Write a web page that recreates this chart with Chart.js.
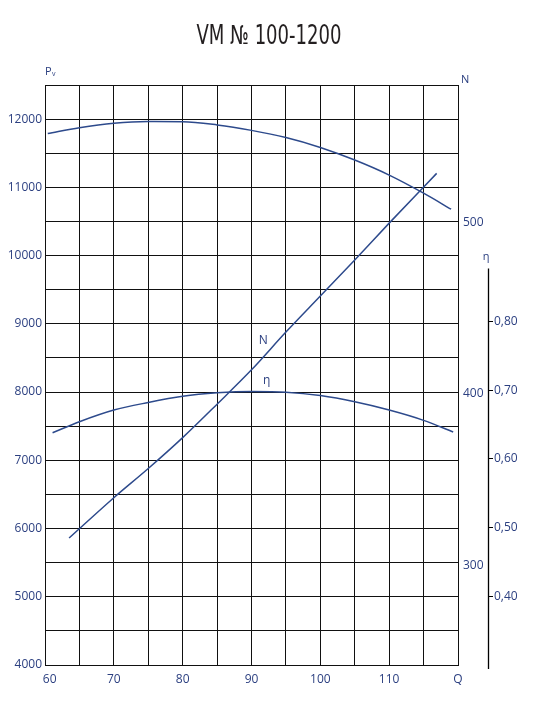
<!DOCTYPE html>
<html>
<head>
<meta charset="utf-8">
<script src="https://cdn.jsdelivr.net/npm/chart.js@4"></script>
<style>
  html, body { margin: 0; padding: 0; background: #fff; }
  #wrap { width: 537px; height: 717px; position: relative; }
</style>
</head>
<body>
<div id="wrap"><canvas id="fanChart"></canvas></div>
<script>
// Q - Pv curve
const qPv = [60.4, 65, 70, 75, 80, 85, 90, 95, 100, 105, 110, 115, 119];
const pv  = [11790, 11875, 11940, 11965, 11963, 11915, 11835, 11730, 11585, 11400, 11180, 10915, 10680];

// Q - N (power) line
const qN = [63.5, 70, 75, 80, 85, 90, 95, 100, 105, 110, 116.9];
const n  = [316, 339.5, 356.5, 374.5, 394, 414, 436, 457, 478, 499.5, 528.5];

// Q - efficiency
const qEta = [61.1, 65, 70, 75, 80, 85, 90, 95, 100, 105, 110, 115, 119.3];
const eta  = [0.638, 0.654, 0.671, 0.682, 0.691, 0.696, 0.698, 0.697, 0.692, 0.683, 0.671, 0.656, 0.639];

const pvTicks  = [4000, 5000, 6000, 7000, 8000, 9000, 10000, 11000, 12000];
const qTicks   = [60, 70, 80, 90, 100, 110];
const nTicks   = [300, 400, 500];
const etaTicks = [0.4, 0.5, 0.6, 0.7, 0.8];

const title = 'VM № 100-1200';

const blue = '#2d4a8c';
const txt = '#2b3f80';
const fnt = '"Open Sans", "DejaVu Sans", sans-serif';

const pts = (xs, ys) => xs.map((x, i) => ({x: x, y: ys[i]}));

// title (condensed), axis names, curve names and the short eta axis line
const extras = {
  id: 'extras',
  afterDraw(chart) {
    const c = chart.ctx, a = chart.chartArea;
    const sx = chart.scales.x, sy = chart.scales.y, se = chart.scales.yEta;
    c.save();
    c.fillStyle = '#231f20';
    c.font = '26px "DejaVu Sans Condensed", "DejaVu Sans", sans-serif';
    c.textAlign = 'center';
    c.textBaseline = 'alphabetic';
    const w = c.measureText(title).width;
    c.translate(269, 44);
    c.scale(145 / w, 1);
    c.fillText(title, 0, 0);
    c.restore();

    c.save();
    c.strokeStyle = '#000';
    c.lineWidth = 1.3;
    c.beginPath();
    c.moveTo(se.left + 0.5, se.getPixelForValue(0.877));
    c.lineTo(se.left + 0.5, se.getPixelForValue(0.294));
    c.stroke();

    c.fillStyle = txt;
    c.textBaseline = 'alphabetic';
    c.font = '11px ' + fnt;
    c.textAlign = 'left';
    c.fillText('P', a.left, a.top - 10);
    c.font = '7px ' + fnt;
    c.fillText('v', a.left + 7, a.top - 9);
    c.font = '11px ' + fnt;
    c.fillText('N', a.right + 3, a.top - 2);
    c.textAlign = 'center';
    c.fillText('η', se.left - 2, se.getPixelForValue(0.877) - 8);
    c.font = '12px ' + fnt;
    c.fillText('N', sx.getPixelForValue(91.7), sy.getPixelForValue(8766) + 4);
    c.fillText('η', sx.getPixelForValue(92.2), sy.getPixelForValue(8181) + 4);
    c.restore();
  }
};

new Chart(document.getElementById('fanChart'), {
  type: 'line',
  data: {
    datasets: [
      {label: 'Pv', data: pts(qPv, pv), yAxisID: 'y', borderColor: blue, borderWidth: 1.5,
       pointRadius: 0, cubicInterpolationMode: 'monotone', fill: false},
      {label: 'N', data: pts(qN, n), yAxisID: 'yN', borderColor: blue, borderWidth: 1.5,
       pointRadius: 0, cubicInterpolationMode: 'monotone', fill: false},
      {label: 'η', data: pts(qEta, eta), yAxisID: 'yEta', borderColor: blue, borderWidth: 1.5,
       pointRadius: 0, cubicInterpolationMode: 'monotone', fill: false}
    ]
  },
  options: {
    responsive: true,
    maintainAspectRatio: false,
    animation: false,
    layout: {padding: {top: 85, bottom: 22, left: 0, right: 0}},
    plugins: {
      legend: {display: false},
      tooltip: {enabled: false},
      title: {display: false}
    },
    scales: {
      x: {
        type: 'linear', min: 60, max: 120,
        ticks: {stepSize: 5, color: txt, font: {family: fnt, size: 12}, padding: 7, maxRotation: 0,
          callback: v => v === 120 ? 'Q' : (qTicks.includes(v) ? (v === 60 ? '   60' : v) : '')},
        grid: {color: '#111', lineWidth: 1, drawTicks: false},
        border: {color: '#111'},
        afterFit: s => { s.height = 30; }
      },
      y: {
        position: 'left', min: 4000, max: 12500,
        ticks: {stepSize: 500, color: txt, font: {family: fnt, size: 12}, padding: 3,
          callback: v => pvTicks.includes(v) ? v : ''},
        grid: {color: '#111', lineWidth: 1, drawTicks: false},
        border: {color: '#111'},
        afterFit: s => { s.width = 45; }
      },
      yN: {
        position: 'right', min: 242, max: 580, weight: 0,
        afterBuildTicks: s => { s.ticks = nTicks.map(v => ({value: v})); },
        ticks: {color: txt, font: {family: fnt, size: 12}, padding: 5},
        grid: {drawOnChartArea: false, drawTicks: false},
        border: {display: false},
        afterFit: s => { s.width = 30; }
      },
      yEta: {
        position: 'right', min: 0.3, max: 1.144, weight: 1,
        afterBuildTicks: s => { s.ticks = etaTicks.map(v => ({value: v})); },
        ticks: {color: txt, font: {family: fnt, size: 12}, padding: 1,
          callback: v => v.toFixed(2).replace('.', ',')},
        grid: {drawOnChartArea: false, drawTicks: true, tickLength: 5, color: '#000', lineWidth: 1},
        border: {display: false},
        afterFit: s => { s.width = 49; }
      }
    }
  },
  plugins: [extras]
});
</script>
</body>
</html>
